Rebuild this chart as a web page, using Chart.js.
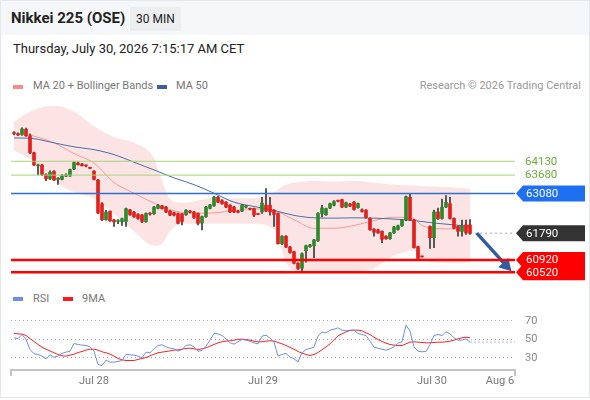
<!DOCTYPE html>
<html>
<head>
<meta charset="utf-8">
<script src="https://cdn.jsdelivr.net/npm/chart.js@4.4.1/dist/chart.umd.min.js"></script>
<style>
  html, body { margin: 0; padding: 0; }
  body { width: 590px; height: 400px; position: relative; background: #fff; overflow: hidden; font-family: Roboto, 'Liberation Sans', Arial, sans-serif; }
  .frame { position: absolute; left: 0; top: 0; width: 588px; height: 396px; border: 1px solid #e4e8ed; }
  .head { position: absolute; left: 1px; top: 1px; width: 588px; height: 34px; background: #f6f7f8; }
  .title { position: absolute; left: 11px; top: 9px; font-size: 15px; font-weight: bold; color: #222; }
  .badge { position: absolute; left: 130px; top: 7px; width: 51px; height: 24px; line-height: 24px; background: #eceef0; font-size: 12px; color: #222; text-align: center; }
  .date { position: absolute; left: 13px; top: 41px; font-size: 13px; color: #222; }
  .leg { position: absolute; font-size: 11px; color: #777; white-space: nowrap; }
  .sw { position: absolute; width: 10px; height: 4px; }
  canvas { position: absolute; left: 0; }
</style>
</head>
<body>
<div class="frame"></div>
<div class="head"></div>
<div class="title">Nikkei 225 (OSE)</div>
<div class="badge">30 MIN</div>
<div class="date">Thursday, July 30, 2026 7:15:17 AM CET</div>

<div class="sw" style="left:13px;top:85px;background:#f88a8a"></div>
<div class="leg" style="left:33px;top:79px">MA 20 + Bollinger Bands</div>
<div class="sw" style="left:157px;top:85px;background:#3c5f9c"></div>
<div class="leg" style="left:176px;top:79px">MA 50</div>
<div class="leg" style="right:9px;top:79px;color:#999">Research © 2026 Trading Central</div>

<div class="sw" style="left:13px;top:297px;background:#6d8fe6"></div>
<div class="leg" style="left:33px;top:292px">RSI</div>
<div class="sw" style="left:63px;top:297px;background:#ff1a1a"></div>
<div class="leg" style="left:82px;top:292px">9MA</div>

<canvas id="main" width="590" height="198" style="top:92px"></canvas>
<canvas id="rsi" width="590" height="95" style="top:300px"></canvas>

<script>
// 30 min candles, index 0 = first bar on the left (index 103 = no bar)
const opens = [
  65050, 65030, 65000, 65170, 64960, 64410, 63980, 64010, 63700, 63560,
  63800, 63540, 63540, 63650, 63650, 63880, 64070, 64040, 64000, 63910,
  63810, 63520, 62750, 62230, 62500, 62220, 62170, 62160, 62170, 62550,
  62470, 62400, 62380, 62170, 62430, 62420, 62600, 62680, 62640, 62510,
  62460, 62430, 62420, 62390, 62510, 62480, 62430, 62120, 62330, 62600,
  62680, 62960, 62850, 62800, 62700, 62640, 62510, 62510, 62640, 62590,
  62590, 62410, 62480, 62700, 62700, 62540, 62430, 61450, 61690, 61340,
  61190, 60810, 60650, 61220, 61350, 61380, 61540, 62430, 62390, 62610,
  62700, 62850, 62880, 62640, 62740, 62800, 62620, 62550, 62540, 62270,
  61920, 61900, 61850, 61690, 61610, 61800, 61910, 62030, 62220, 62960,
  62220, 61350, 61030, null, 62010, 61640, 62480, 62270, 62640, 62750,
  62270, 62010, 61850, 62060, 62060
];
const highs = [
  65100, 65060, 65220, 65210, 65020, 64430, 64040, 64030, 63720, 63820,
  63830, 63600, 63700, 63720, 63880, 64120, 64110, 64060, 64010, 63920,
  63830, 63540, 62790, 62530, 62520, 62240, 62230, 62280, 62610, 62570,
  62500, 62430, 62400, 62450, 62460, 62660, 62730, 62700, 62660, 62530,
  62480, 62450, 62440, 62560, 62530, 62500, 62450, 62350, 62660, 62730,
  62990, 62990, 62880, 62820, 62720, 62660, 62530, 62720, 62700, 62610,
  62610, 62420, 62960, 63240, 62960, 62560, 62450, 61710, 61710, 61360,
  61210, 60830, 61150, 61400, 61430, 61590, 62460, 62700, 62610, 62770,
  62850, 62870, 62900, 62800, 62760, 62830, 62770, 62580, 62560, 62290,
  61940, 61920, 61870, 61710, 61820, 62010, 62050, 62240, 63000, 63060,
  62240, 61370, 61040, null, 62030, 62540, 62610, 62900, 63010, 62960,
  62290, 62030, 62220, 62220, 62230
];
const lows = [
  64990, 64960, 64970, 64940, 64380, 63990, 63690, 63660, 63500, 63530,
  63500, 63380, 63520, 63630, 63640, 63860, 64000, 63970, 63950, 63890,
  63520, 62420, 62200, 62210, 62170, 62010, 62100, 62040, 62010, 62370,
  62300, 62240, 62130, 62150, 62380, 62400, 62580, 62570, 62460, 62360,
  62350, 62090, 62060, 62370, 62450, 62270, 62060, 61900, 62300, 62580,
  62660, 62780, 62730, 62620, 62460, 62460, 62450, 62490, 62610, 62550,
  62330, 62390, 62430, 62490, 62380, 62010, 61430, 61420, 61320, 61140,
  60790, 60600, 60520, 60850, 61330, 60990, 61520, 62320, 62370, 62590,
  62680, 62810, 62620, 62620, 62650, 62540, 62600, 62470, 62280, 61880,
  61690, 61780, 61480, 61590, 61590, 61780, 61890, 62010, 62200, 62200,
  61300, 60900, 61010, null, 61290, 61320, 62240, 62250, 62620, 62250,
  61930, 61690, 61690, 61750, 61750
];
const closes = [
  65030, 64990, 65180, 64960, 64410, 64010, 64000, 63700, 63560, 63770,
  63520, 63570, 63670, 63690, 63860, 64090, 64020, 63990, 63980, 63900,
  63540, 62450, 62230, 62480, 62190, 62160, 62200, 62260, 62590, 62390,
  62320, 62270, 62170, 62430, 62410, 62640, 62700, 62590, 62480, 62380,
  62380, 62110, 62170, 62540, 62470, 62290, 62110, 62330, 62640, 62710,
  62960, 62800, 62750, 62640, 62480, 62480, 62470, 62700, 62680, 62570,
  62380, 62400, 62770, 62510, 62480, 62400, 61450, 61690, 61340, 61160,
  60810, 60640, 61120, 61380, 61410, 61570, 62430, 62610, 62590, 62750,
  62820, 62830, 62640, 62780, 62670, 62560, 62750, 62500, 62300, 61900,
  61820, 61800, 61590, 61610, 61800, 61990, 62030, 62220, 62980, 62220,
  61320, 60970, 61020, null, 61640, 62480, 62260, 62640, 62800, 62270,
  61950, 61850, 62030, 61800, 61790
];

// Bollinger bands (read at these bar indexes)
const bandIdx = [0, 5, 10, 15, 20, 25, 30, 35, 37, 39, 42, 50, 60, 65, 66, 67, 68, 70, 75, 80, 85, 90, 95, 100, 102, 105, 110, 114];
const bandUpper = [65430, 65810, 65940, 65750, 65270, 64920, 64730, 64230, 63500, 62900, 62780, 62930, 62930, 63120, 63210, 63310, 63370, 63430, 63500, 63470, 63500, 63430, 63370, 63340, 63320, 63310, 63280, 63240];
const bandLower = [64480, 64130, 63500, 63120, 62930, 62420, 61850, 61380, 61440, 61850, 62100, 62100, 62100, 61910, 61690, 61220, 60840, 60580, 60520, 60520, 60550, 60650, 61060, 61220, 60960, 60840, 60810, 60840];

const ma20Idx = [4, 10, 15, 20, 25, 30, 35, 40, 45, 50, 55, 60, 65, 70, 75, 80, 85, 90, 95, 100, 102, 105, 110, 114];
const ma20 = [64990, 64730, 64380, 64070, 63440, 63090, 62770, 62520, 62440, 62450, 62530, 62580, 62530, 62230, 61950, 61950, 62040, 62200, 62310, 62260, 62040, 61950, 61930, 62010];

const ma50Idx = [0, 4, 10, 15, 20, 25, 30, 35, 40, 45, 50, 55, 60, 65, 70, 75, 80, 85, 90, 95, 100, 105, 110, 114];
const ma50 = [64890, 64880, 64730, 64600, 64510, 64350, 64100, 63850, 63590, 63370, 63090, 62800, 62660, 62530, 62370, 62290, 62280, 62290, 62280, 62250, 62200, 62120, 62060, 62010];

const levelValues = [64130, 63680, 63080, 60920, 60520];
const levelKinds = ['green', 'green', 'blue', 'red', 'red'];
const lastPrice = 61790;
const arrowIdx = [115.7, 123];
const arrowVal = [61790, 60740];

const rsi = [
  51.8, 51, 55.4, 50, 39.2, 34.5, 33.8, 32, 29.1, 33.4,
  30.9, 32, 34.9, 36.3, 37.4, 45.7, 44.6, 43.9, 43.5, 42,
  37.4, 23, 21.9, 27.7, 25.5, 25.5, 26.2, 27.3, 33.8, 33.4,
  33.1, 32, 30.2, 36.3, 35.6, 39.9, 43.5, 44.3, 42, 40.6,
  39.9, 37.4, 39.2, 43.5, 44.3, 42, 37.4, 38.1, 42.8, 49.3,
  56.5, 56.1, 54.3, 50.7, 46.4, 45, 47.5, 50, 49.3, 47.9,
  46.4, 45.3, 53.6, 54.7, 51.4, 47.1, 32, 33.8, 34.9, 31,
  29.1, 25.8, 35.6, 39.2, 40.3, 42, 53.6, 57.9, 57.2, 60.1,
  61.2, 62.6, 60.1, 59.4, 60.1, 60.1, 56.5, 55.4, 54.3, 48.2,
  41.7, 40.6, 39.5, 38.5, 39.9, 42, 46.4, 47.5, 65.5, 59,
  42, 37.4, 36.7, 37, 44.6, 54.3, 55.4, 54.3, 58.3, 56.1,
  51.8, 49.3, 49.3, 50.7, 47.2
];
const rsiMa9 = [
  56.5, 56.1, 55.8, 54.3, 51, 47.8, 44.6, 41.7, 39.5, 37.7,
  35.6, 33.8, 32.3, 32, 33.1, 34.1, 35.9, 37, 38.5, 39.5,
  39.5, 38.5, 36.7, 35.6, 34.1, 32, 29.5, 28, 27.3, 27.3,
  27.3, 28.4, 29.5, 30.5, 32.3, 34.1, 35.6, 36.3, 37, 37.7,
  38.5, 38.8, 39.5, 40.3, 40.6, 39.9, 39.2, 39.9, 41, 42.8,
  44.6, 46.4, 47.5, 48.2, 48.6, 49.3, 50, 50.4, 50, 49.3,
  48.2, 47.5, 47.5, 48.2, 48.6, 48.2, 46.8, 45.3, 43.5, 41.5,
  39.5, 37, 35.2, 33.8, 32.7, 33.8, 35.9, 38.8, 42, 45.3,
  49.6, 54, 56.1, 58.3, 59.7, 60.1, 60.1, 59.4, 57.2, 55.4,
  52.5, 50, 47.8, 46, 44.6, 43.9, 43.5, 43.5, 45.3, 47.1,
  47.5, 47.1, 46.8, 46.4, 46.4, 46.8, 47.1, 47.1, 47.5, 48.2,
  49.3, 50.7, 51.8, 52.5, 51.8
];
const rsiTicks = [30, 50, 70];

const xTickPos = [20, 62.25, 104.5, 121.5];
const xTickLabels = ['Jul 28', 'Jul 29', 'Jul 30', 'Aug 6'];
const xMin = -0.75, xMax = 125.25;

Chart.defaults.font.family = "Roboto, 'Liberation Sans', Arial, sans-serif";

const UP = '#2b8a2b', DOWN = '#e3201c';
const bars = opens.map((o, i) => i).filter(i => opens[i] != null);
const pts = (xs, ys) => xs.map((x, k) => ({x: x, y: ys[k]}));
const last = opens.length - 1;

const levelStyle = {
  green: {line: '#a5d57a', width: 1, text: '#6aae3a'},
  blue: {line: '#2f6fd8', width: 1.5, tag: '#1f6ff2'},
  red: {line: '#ff0000', width: 2.5, tag: '#ff0000'}
};

function tag(ctx, x, y, color, text) {
  ctx.fillStyle = color;
  ctx.beginPath();
  ctx.moveTo(x, y);
  ctx.lineTo(x + 7, y - 8);
  ctx.lineTo(x + 69, y - 8);
  ctx.lineTo(x + 69, y + 8);
  ctx.lineTo(x + 7, y + 8);
  ctx.closePath();
  ctx.fill();
  ctx.fillStyle = '#fff';
  ctx.fillText(text, x + 10, y + 0.5);
}

const levelPlugin = {
  id: 'levels',
  afterDatasetsDraw(chart) {
    const {ctx, chartArea: a, scales: {y}} = chart;
    ctx.save();
    levelValues.forEach((v, k) => {
      const s = levelStyle[levelKinds[k]];
      const py = y.getPixelForValue(v);
      ctx.strokeStyle = s.line;
      ctx.lineWidth = s.width;
      ctx.beginPath();
      ctx.moveTo(a.left, py);
      ctx.lineTo(a.right, py);
      ctx.stroke();
    });
    ctx.restore();
  },
  afterDraw(chart) {
    const {ctx, chartArea: a, scales: {y}} = chart;
    ctx.save();
    ctx.font = "11.5px Roboto, 'Liberation Sans', Arial, sans-serif";
    ctx.textBaseline = 'middle';
    levelValues.forEach((v, k) => {
      const s = levelStyle[levelKinds[k]];
      const py = y.getPixelForValue(v);
      if (s.tag) {
        tag(ctx, a.right + 1, py, s.tag, String(v));
      } else {
        ctx.fillStyle = s.text;
        ctx.fillText(String(v), a.right + 10, py + 0.5);
      }
    });
    tag(ctx, a.right + 1, y.getPixelForValue(lastPrice), '#333333', String(lastPrice));
    ctx.restore();
  }
};

new Chart(document.getElementById('main'), {
  type: 'bar',
  data: {
    datasets: [
      {
        type: 'line', data: pts(arrowIdx, arrowVal), borderColor: '#2f5d9f', borderWidth: 3.5,
        pointRadius: [0, 8], pointStyle: 'triangle', rotation: 137,
        pointBackgroundColor: '#2f5d9f', pointBorderWidth: 0, order: 0
      },
      {
        data: bars.map(i => ({x: i, y: [opens[i], closes[i]]})),
        backgroundColor: c => (c.raw && c.raw.y[1] >= c.raw.y[0]) ? UP : DOWN,
        barThickness: 3, minBarLength: 1, grouped: false, order: 1
      },
      {
        data: bars.map(i => ({x: i, y: [lows[i], highs[i]]})),
        backgroundColor: '#3a3a3a', barThickness: 1, grouped: false, order: 2
      },
      {
        type: 'line', data: [{x: last, y: lastPrice}, {x: xMax, y: lastPrice}],
        borderColor: '#9aa6c4', borderWidth: 1, borderDash: [2, 3], pointRadius: 0, order: 3
      },
      {
        type: 'line', data: pts(ma50Idx, ma50), borderColor: '#4a6ea8', borderWidth: 1,
        pointRadius: 0, cubicInterpolationMode: 'monotone', order: 4
      },
      {
        type: 'line', data: pts(ma20Idx, ma20), borderColor: '#f59a9a', borderWidth: 1,
        pointRadius: 0, cubicInterpolationMode: 'monotone', order: 4
      },
      {
        type: 'line', data: pts(bandIdx, bandUpper), borderWidth: 0, pointRadius: 0,
        cubicInterpolationMode: 'monotone', fill: '+1', backgroundColor: 'rgba(250, 196, 196, 0.45)', order: 6
      },
      {
        type: 'line', data: pts(bandIdx, bandLower), borderWidth: 0, pointRadius: 0,
        cubicInterpolationMode: 'monotone', fill: false, order: 6
      }
    ]
  },
  options: {
    responsive: false,
    animation: false,
    layout: {padding: {left: 11, right: 75, top: 3, bottom: 10}},
    plugins: {legend: {display: false}, tooltip: {enabled: false}},
    scales: {
      x: {type: 'linear', min: xMin, max: xMax, offset: false, display: false},
      y: {min: 60266, max: 66125, display: false}
    }
  },
  plugins: [levelPlugin]
});

const endTicks = {
  id: 'endTicks',
  afterDraw(chart) {
    const {ctx, chartArea: a} = chart;
    ctx.save();
    ctx.strokeStyle = '#c4c4c4';
    ctx.lineWidth = 2;
    [a.left, a.right].forEach(x => {
      ctx.beginPath();
      ctx.moveTo(x, a.bottom);
      ctx.lineTo(x, a.bottom + 6);
      ctx.stroke();
    });
    ctx.restore();
  }
};

const noPad = s => { s.paddingTop = 0; s.paddingBottom = 0; s.paddingLeft = 0; s.paddingRight = 0; };

new Chart(document.getElementById('rsi'), {
  type: 'line',
  data: {
    datasets: [
      {data: rsi.map((v, i) => ({x: i, y: v})), borderColor: '#6d8fe6', borderWidth: 1, pointRadius: 0},
      {data: rsiMa9.map((v, i) => ({x: i, y: v})), borderColor: '#ff2020', borderWidth: 1, pointRadius: 0},
      {
        data: [{x: last, y: rsi[last]}, {x: xMax, y: rsi[last]}],
        borderColor: '#a9bcef', borderWidth: 1, borderDash: [2, 2], pointRadius: 0
      }
    ]
  },
  options: {
    responsive: false,
    animation: false,
    layout: {padding: {left: 11, right: 0, top: 5, bottom: 0}},
    plugins: {legend: {display: false}, tooltip: {enabled: false}},
    scales: {
      x: {
        type: 'linear', min: xMin, max: xMax,
        afterBuildTicks: s => { s.ticks = xTickPos.map(v => ({value: v})); },
        afterFit: s => { s.height = 25; noPad(s); },
        grid: {display: false, drawTicks: false},
        border: {display: true, color: '#c4c4c4', width: 2},
        ticks: {autoSkip: false, maxRotation: 0, padding: 5, color: '#777', font: {size: 11},
          callback: (v, i) => xTickLabels[i]}
      },
      y: {
        position: 'right', min: 17, max: 87.3,
        afterBuildTicks: s => { s.ticks = rsiTicks.map(v => ({value: v})); },
        afterFit: s => { s.width = 75; noPad(s); },
        grid: {color: '#a8a8a8', drawTicks: false},
        border: {display: false, dash: [1, 3]},
        ticks: {padding: 10, color: '#888', font: {size: 11}}
      }
    }
  },
  plugins: [endTicks]
});
</script>
</body>
</html>
